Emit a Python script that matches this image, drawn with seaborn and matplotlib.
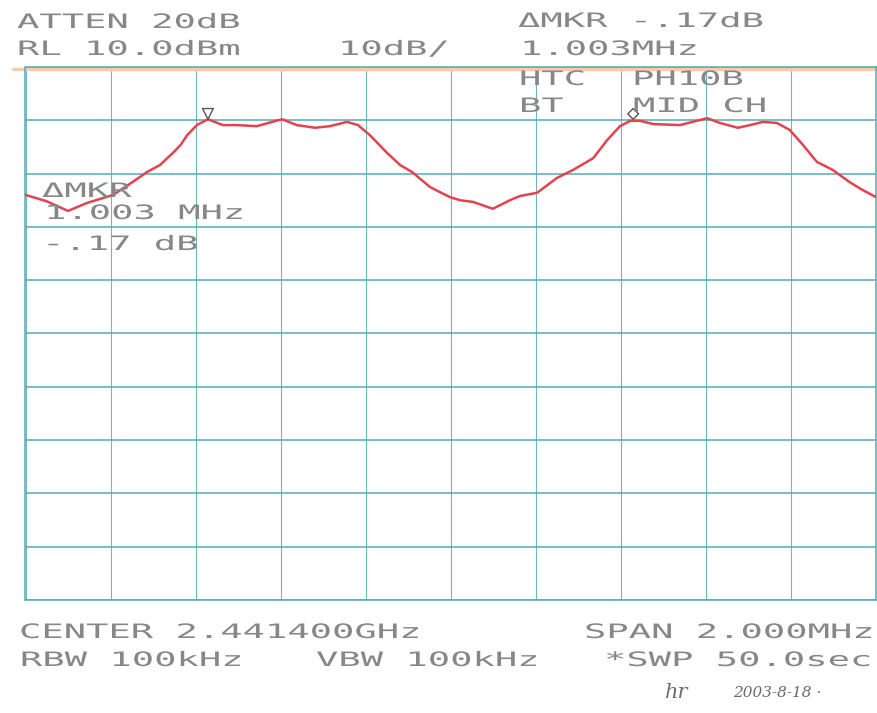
import numpy as np
import pandas as pd
import matplotlib
matplotlib.use("Agg")
import matplotlib.pyplot as plt
import matplotlib.patheffects as pe
from matplotlib.transforms import Affine2D
import seaborn as sns

# trace: offset from centre (MHz) and level (dBm)
freq_mhz = [-1.000, -0.950, -0.900, -0.855, -0.794, -0.754, -0.714, -0.684, -0.653,
            -0.635, -0.620, -0.597, -0.571, -0.536, -0.503, -0.456, -0.397, -0.362,
            -0.319, -0.284, -0.244, -0.218, -0.190, -0.150, -0.119, -0.091, -0.049,
            -0.025, -0.002, 0.022, 0.052, 0.099, 0.139, 0.163, 0.203, 0.250, 0.288,
            0.335, 0.368, 0.398, 0.422, 0.445, 0.476, 0.539, 0.603, 0.633, 0.675,
            0.704, 0.734, 0.767, 0.797, 0.828, 0.861, 0.898, 0.938, 0.969, 1.000]
level_dbm = [-14.0, -15.2, -17.0, -15.5, -14.0, -11.9, -9.7, -8.4, -6.1,
             -4.6, -2.8, -0.9, 0.2, -0.9, -0.9, -1.1, 0.2, -0.9,
             -1.4, -1.1, -0.3, -0.9, -2.8, -6.1, -8.4, -9.7, -12.5,
             -13.5, -14.4, -15.0, -15.3, -16.6, -15.0, -14.2, -13.6, -10.8, -9.3,
             -7.1, -3.7, -1.1, -0.1, -0.1, -0.7, -0.9, 0.4, -0.5, -1.4,
             -0.9, -0.3, -0.5, -1.8, -4.6, -7.8, -9.3, -11.6, -13.1, -14.4]

# the two markers drawn above the trace
marker_freq = [-0.571, 0.429]
marker_level = [1.2, 1.2]
marker_kind = ["ref", "delta"]

# annotation texts as printed by the analyser
header_texts = ["ATTEN 20dB", "RL 10.0dBm", "10dB/", "\u0394MKR -.17dB", "1.003MHz",
                "HTC", "PH10B", "BT", "MID CH"]
marker_texts = ["\u0394MKR", "1.003 MHz", "-.17 dB"]
footer_texts = ["CENTER 2.441400GHz", "SPAN 2.000MHz", "RBW 100kHz", "VBW 100kHz",
                "*SWP 50.0sec"]

W, H = 878, 713
TEAL = "#56abb4"
RED = "#e2434f"
TXT = "#878787"


class Stretch(pe.AbstractPathEffect):
    # widen the glyphs so the mono font looks like plotter lettering
    def __init__(self, sx=1.75):
        super().__init__()
        self.sx = sx

    def draw_path(self, renderer, gc, tpath, affine, rgbFace=None):
        renderer.draw_path(gc, tpath, Affine2D().scale(self.sx, 1.0) + affine, rgbFace)


sns.set_style("white")

fig = plt.figure(figsize=(W / 100, H / 100), dpi=100)
ax = fig.add_axes([25.5 / W, (H - 600) / H, 850.5 / W, 533 / H])

df = pd.DataFrame({"freq": freq_mhz, "level": level_dbm})
sns.lineplot(data=df, x="freq", y="level", color=RED, linewidth=1.8, ax=ax, zorder=3)

mk = pd.DataFrame({"freq": marker_freq, "level": marker_level, "kind": marker_kind})
sns.scatterplot(data=mk, x="freq", y="level", style="kind",
                markers={"ref": "v", "delta": "D"}, s=[60, 30],
                facecolors="none", edgecolor="#555555", linewidth=1.0,
                legend=False, ax=ax, zorder=4)

ax.set_xlim(-1, 1)
ax.set_ylim(-90, 10)
ax.set_xticks(np.linspace(-1, 1, 11))
ax.set_yticks(np.arange(-90, 11, 10))
ax.tick_params(length=0, labelbottom=False, labelleft=False)
ax.grid(axis="x", color=TEAL, linewidth=0.8, alpha=0.85)
ax.grid(axis="y", color=TEAL, linewidth=1.3, alpha=0.85)
ax.set_xlabel("")
ax.set_ylabel("")
for s in ax.spines.values():
    s.set_color(TEAL)
    s.set_linewidth(1.1)

# peach line along the top edge of the paper graticule
ax.axhline(9.6, xmin=-0.015, xmax=1.01, color="#f6cdaa", linewidth=2.5,
           clip_on=False, zorder=1)


def label(x, y, s):
    fig.text(x / W, 1 - y / H, s, fontsize=14.3, family="DejaVu Sans Mono",
             color=TXT, ha="left", va="baseline", path_effects=[Stretch(1.87)])


header_pos = [(17, 28), (17, 55), (338, 55), (518, 27), (520, 55),
              (519, 85), (632, 85), (519, 112), (633, 112)]
for (x, y), s in zip(header_pos, header_texts):
    label(x, y, s)

for (x, y), s in zip([(42, 197), (44, 219), (42, 250)], marker_texts):
    label(x, y, s)

footer_pos = [(19, 638), (584, 638), (20, 666), (316, 666), (604, 666)]
for (x, y), s in zip(footer_pos, footer_texts):
    label(x, y, s)

# handwritten initials and date
fig.text(665 / W, 1 - 698 / H, "hr", fontsize=15, family="DejaVu Serif",
         style="italic", color="#6a6a6a", va="baseline")
fig.text(733 / W, 1 - 697 / H, "2003-8-18 \u00b7", fontsize=11, family="DejaVu Serif",
         style="italic", color="#6a6a6a", va="baseline")

plt.savefig("out.png", dpi=100, facecolor="white")
